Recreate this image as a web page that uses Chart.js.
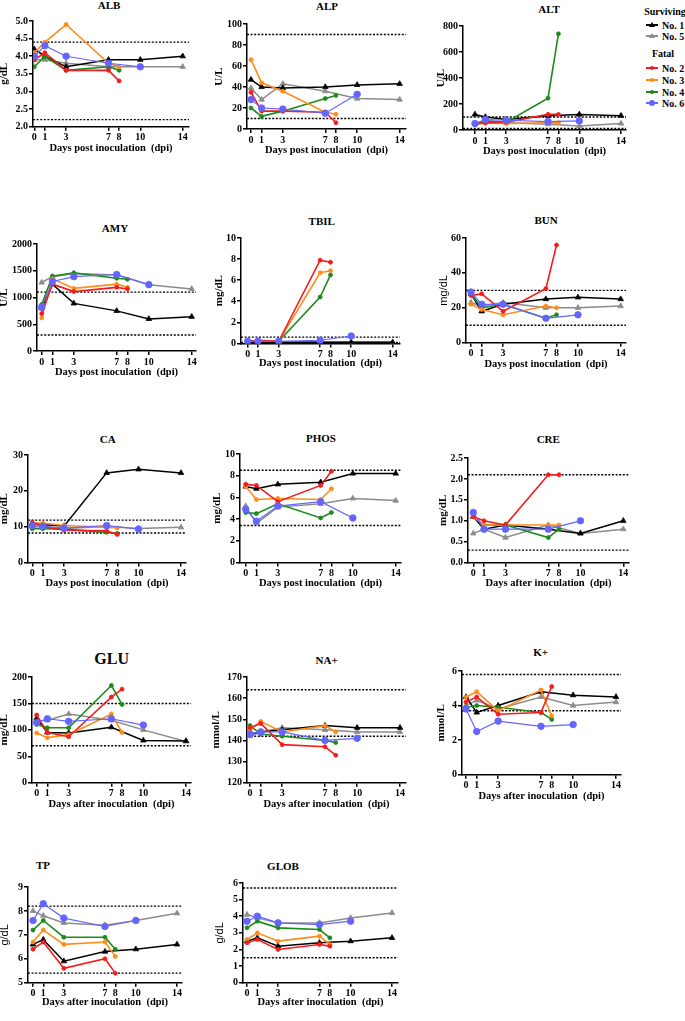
<!DOCTYPE html>
<html>
<head>
<meta charset="utf-8">
<script src="https://cdn.jsdelivr.net/npm/chart.js@4.4.0/dist/chart.umd.min.js"></script>
<style>
body { margin: 0; background: #fff; width: 685px; height: 1021px; position: relative; overflow: hidden; font-family: "Liberation Serif", serif; }
canvas { position: absolute; }
.ttl { position: absolute; font-weight: bold; font-size: 11px; transform: translate(-50%, -50%); white-space: nowrap; }
.lg { position: absolute; font-weight: bold; font-size: 10px; white-space: nowrap; }
.lgline { position: absolute; height: 1.5px; width: 12px; }
.tri { position: absolute; width: 0; height: 0; border-left: 3px solid transparent; border-right: 3px solid transparent; border-bottom: 5px solid; }
.dot { position: absolute; border-radius: 50%; }
</style>
</head>
<body>
<div id="root"></div>
<script>
// --- Data ---
const daysSurv = [0, 1, 3, 7, 10, 14];   // No. 1, No. 5
const daysFatal = [0, 1, 3, 7, 8];       // No. 2, No. 3, No. 4
const daysNo6 = [0, 1, 3, 7, 10];        // No. 6
const xTicks = [0, 1, 3, 7, 8, 10, 14];
const animals = ['No. 1', 'No. 5', 'No. 2', 'No. 3', 'No. 4', 'No. 6'];

// rows: No.1, No.5, No.2, No.3, No.4, No.6
const ALB = [[4.2, 4.0, 3.7, 3.9, 3.9, 4.0], [3.9, 3.9, 3.8, 3.7, 3.7, 3.7], [3.9, 4.1, 3.6, 3.6, 3.3], [4.1, 4.4, 4.9, 3.8, 3.7], [3.7, 4.0, 3.6, 3.7, 3.6], [4.0, 4.3, 4.0, 3.8, 3.7]];
const ALB_ref = [4.4, 2.2];
const ALP = [[47, 40, 39, 40, 42, 43], [39, 28, 43, 36, 29, 28], [35, 17, 17, 16, 6], [66, 44, 36, 16, 14], [20, 12, 17, 29, 32], [28, 20, 19, 15, 33]];
const ALP_ref = [90, 10];
const ALT = [[120, 100, 80, 110, 120, 110], [50, 60, 55, 45, 30, 50], [50, 55, 60, 120, 120], [40, 55, 50, 55, 55], [40, 70, 60, 245, 740], [50, 80, 75, 65, 70]];
const ALT_ref = [100, 12];
const AMY = [[800, 1250, 890, 750, 600, 640], [1280, 1390, 1450, 1420, 1240, 1160], [700, 1250, 1110, 1190, 1160], [620, 1350, 1170, 1250, 1190], [870, 1400, 1460, 1360, 1340], [820, 1300, 1390, 1430, 1240]];
const AMY_ref = [1100, 300];
const TBIL = [[0.1, 0.1, 0.1, 0.1, 0.1, 0.1], [0.1, 0.1, 0.1, 0.1, 0.1, 0.1], [0.2, 0.3, 0.2, 7.9, 7.7], [0.2, 0.2, 0.2, 6.7, 6.9], [0.2, 0.2, 0.2, 4.4, 6.5], [0.2, 0.2, 0.2, 0.3, 0.7]];
const TBIL_ref = [0.6, 0.1];
const BUN = [[28, 18, 22, 25, 26, 25], [23, 21, 23, 20, 20, 21], [27, 28, 18, 31, 56], [22, 19, 16, 21, 20], [28, 20, 22, 14, 16], [29, 22, 22, 14, 16]];
const BUN_ref = [30, 10];
const CA = [[11, 10.5, 10.2, 25, 26, 25], [10, 9.8, 9.5, 10, 9.5, 9.8], [11.2, 10, 9, 8.8, 7.8], [11, 11, 10.3, 9.8, 9.6], [9.4, 9.4, 9.3, 8.4, 8.1], [10.3, 10.1, 9.6, 10.3, 9.3]];
const CA_ref = [11.8, 8.2];
const PHOS = [[7.0, 6.8, 7.2, 7.4, 8.2, 8.2], [5.2, 3.6, 5.1, 5.4, 5.9, 5.7], [7.2, 7.1, 5.6, 7.1, 8.4], [7.0, 5.8, 5.9, 5.8, 6.8], [4.6, 4.5, 5.4, 4.1, 4.6], [4.9, 3.8, 5.2, 5.6, 4.1]];
const PHOS_ref = [8.5, 3.4];
const CRE = [[1.1, 0.8, 0.9, 0.8, 0.7, 1.0], [0.7, 0.8, 0.6, 0.9, 0.7, 0.8], [1.1, 1.0, 0.9, 2.1, 2.1], [1.1, 0.9, 0.9, 0.9, 0.9], [1.1, 0.9, 0.9, 0.6, 0.8], [1.2, 0.8, 0.8, 0.8, 1.0]];
const CRE_ref = [2.1, 0.3];
const GLU = [[122, 95, 94, 105, 80, 79], [117, 118, 130, 118, 100, 78], [128, 95, 87, 162, 177], [94, 85, 91, 130, 95], [110, 104, 104, 184, 148], [114, 121, 116, 121, 109]];
const GLU_ref = [150, 70];
const NA = [[143, 144, 145, 147, 146, 146], [142, 144, 146, 145, 144, 144], [146, 148, 138, 137, 133], [145, 149, 144, 147, 144], [147, 143, 142, 140, 139], [143, 144, 144, 140, 141]];
const NA_ref = [164, 142];
const K = [[4.5, 3.6, 4.0, 4.8, 4.6, 4.5], [4.0, 4.3, 3.8, 4.5, 4.0, 4.2], [4.2, 4.5, 3.5, 3.6, 5.1], [4.5, 4.8, 3.7, 4.9, 3.4], [3.9, 4.0, 3.9, 3.6, 3.2], [3.8, 2.5, 3.1, 2.8, 2.9]];
const K_ref = [5.8, 3.7];
const TP = [[6.6, 6.8, 5.9, 6.3, 6.4, 6.6], [8.0, 7.8, 7.5, 7.4, 7.6, 7.9], [6.4, 6.7, 5.6, 6.0, 5.4], [6.7, 7.2, 6.6, 6.7, 6.1], [7.2, 7.6, 6.9, 6.9, 6.4], [7.6, 8.3, 7.7, 7.35, 7.6]];
const TP_ref = [8.2, 5.4];
const GLOB = [[2.5, 2.7, 2.2, 2.4, 2.5, 2.7], [4.1, 3.9, 3.6, 3.6, 3.9, 4.2], [2.4, 2.6, 2.0, 2.3, 2.2], [2.6, 3.0, 2.5, 2.8, 2.3], [3.3, 3.7, 3.3, 3.2, 2.7], [3.7, 4.0, 3.6, 3.5, 3.7]];
const GLOB_ref = [5.7, 1.5];

// --- Styles ---
const seriesStyle = [
    { days: daysSurv, color: '#000000', point: 'triangle', r: 3.2, lw: 1.5 },
    { days: daysSurv, color: '#8c8c8c', point: 'triangle', r: 3.2, lw: 1.5 },
    { days: daysFatal, color: '#f41c1c', point: 'circle', r: 2, lw: 1.6 },
    { days: daysFatal, color: '#ff8c1a', point: 'circle', r: 2, lw: 1.6 },
    { days: daysFatal, color: '#1d8a1d', point: 'circle', r: 2, lw: 1.6 },
    { days: daysNo6, color: '#6464ff', point: 'circle', r: 3.3, lw: 1.2 }
];
const drawOrder = [5, 2, 3, 4, 0, 1]; // first = drawn on top

const POST = 'Days post inoculation  (dpi)';
const AFTER = 'Days after inoculation  (dpi)';

// box: y-axis x, plot top, plot bottom, x of day 0, x of day 14, axis end, y-title x, x-title y
const panels = [
    { title: 'ALB', unit: 'g/dL', data: ALB, ref: ALB_ref, y: [2, 5, 0.5, 1], box: [33, 21, 127, 34.3, 182.7, 189, 5, 149], t: [109, 5], xl: POST },
    { title: 'ALP', unit: 'U/L', data: ALP, ref: ALP_ref, y: [0, 100, 20, 0], box: [247, 24, 129, 251, 400.3, 406.7, 220, 150.7], t: [327, 6], xl: POST },
    { title: 'ALT', unit: 'U/L', data: ALT, ref: ALT_ref, y: [0, 800, 200, 0], box: [463, 26, 130, 475, 621.7, 626.7, 442, 151.7], t: [549, 9], xl: POST },
    { title: 'AMY', unit: 'U/L', data: AMY, ref: AMY_ref, y: [0, 2000, 500, 0], box: [37, 244, 351, 41.7, 191.7, 196, 5, 372.7], t: [115, 227.7], xl: POST },
    { title: 'TBIL', unit: 'mg/dL', data: TBIL, ref: TBIL_ref, y: [0, 10, 2, 0], box: [241, 238, 343, 247.7, 393.3, 400.7, 220, 363.3], t: [321.7, 221], xl: POST },
    { title: 'BUN', unit: 'mg/dL', sans: true, data: BUN, ref: BUN_ref, y: [0, 60, 20, 0], box: [466, 238, 343, 471, 620.7, 626, 444, 365], t: [546, 220], xl: POST },
    { title: 'CA', unit: 'mg/dL', data: CA, ref: CA_ref, y: [0, 30, 10, 0], box: [28, 455, 562, 32.3, 181.7, 186.7, 5, 583.3], t: [107.7, 439], xl: POST },
    { title: 'PHOS', unit: 'mg/dL', data: PHOS, ref: PHOS_ref, y: [0, 10, 2, 0], box: [240, 454, 562, 245.7, 395.7, 401, 218, 583.3], t: [321, 438.3], xl: POST },
    { title: 'CRE', unit: 'mg/dL', data: CRE, ref: CRE_ref, y: [0, 2.5, 0.5, 1], box: [468, 458, 563, 473.3, 623.3, 629, 444, 584], t: [548.3, 439], xl: AFTER },
    { title: 'GLU', big: true, unit: 'mg/dL', data: GLU, ref: GLU_ref, y: [0, 200, 50, 0], box: [32, 677, 783, 36.7, 186.7, 191.7, 5, 805], t: [111.7, 659.3], xl: AFTER },
    { title: 'NA+', unit: 'mmol/L', data: NA, ref: NA_ref, y: [120, 170, 10, 0], box: [247, 677, 783, 250, 400, 406, 217, 805], t: [326.7, 660], xl: AFTER },
    { title: 'K+', unit: 'mmol/L', data: K, ref: K_ref, y: [0, 6, 2, 0], box: [462, 671, 775, 466, 616.7, 621.7, 442, 797], t: [540.7, 652.3], xl: AFTER },
    { title: 'TP', unit: 'g/dL', sans: true, data: TP, ref: TP_ref, y: [5, 9, 1, 0], box: [28, 887, 983, 33, 177, 182, 5, 1003], t: [43, 865], xl: AFTER },
    { title: 'GLOB', unit: 'g/dL', sans: true, data: GLOB, ref: GLOB_ref, y: [0, 6, 1, 0], box: [243, 883, 983, 247, 392, 398, 220, 1003], t: [283, 866], xl: AFTER }
];

const root = document.getElementById('root');
const SERIF = '"Liberation Serif", serif';

function addDiv(cls, text, x, y, extra) {
    const d = document.createElement('div');
    d.className = cls;
    d.textContent = text;
    d.style.left = x + 'px';
    d.style.top = y + 'px';
    if (extra) Object.assign(d.style, extra);
    root.appendChild(d);
    return d;
}

function makePanel(p) {
    const [axisX, top, bottom, x0, x14, end, ylabX, xlabY] = p.box;
    const unitPx = (x14 - x0) / 14;
    const xmin = (axisX - x0) / unitPx;
    const xmax = 14 + (end - x14) / unitPx;
    const padT = 8, padR = 10;
    const left = Math.round(ylabX - 6.6);
    const YW = axisX - left;
    const XH = xlabY - bottom + 6.3;
    const w = YW + (end - axisX) + padR;
    const h = Math.round(padT + (bottom - top) + XH);

    const cv = document.createElement('canvas');
    cv.width = w; cv.height = h;
    cv.style.left = left + 'px';
    cv.style.top = (top - padT) + 'px';
    root.appendChild(cv);

    addDiv('ttl', p.title, p.t[0], p.t[1], p.big ? { fontSize: '16px' } : null);

    const datasets = [];
    drawOrder.forEach(i => {
        const s = seriesStyle[i];
        datasets.push({
            label: animals[i],
            data: p.data[i].map((v, k) => ({ x: s.days[k], y: v })),
            borderColor: s.color,
            backgroundColor: s.color,
            borderWidth: s.lw,
            pointStyle: s.point,
            pointRadius: s.r,
            pointBorderWidth: 0.8,
            tension: 0
        });
    });
    p.ref.forEach(v => {
        datasets.push({
            data: [{ x: xmin, y: v }, { x: xmax, y: v }],
            borderColor: '#000',
            borderWidth: 1.4,
            borderDash: [2, 1.6],
            pointRadius: 0,
            tension: 0
        });
    });

    const tickFont = { family: SERIF, size: 10, weight: 'bold' };
    new Chart(cv, {
        type: 'line',
        data: { datasets },
        options: {
            responsive: false,
            animation: false,
            devicePixelRatio: 1,
            layout: { padding: { top: padT, right: padR, left: 0, bottom: 0 } },
            plugins: { legend: { display: false }, tooltip: { enabled: false } },
            scales: {
                x: {
                    type: 'linear', min: xmin, max: xmax,
                    afterBuildTicks: s => { s.ticks = xTicks.map(v => ({ value: v })); },
                    afterFit: s => { s.height = XH; },
                    border: { display: true, color: '#000', width: 1.5 },
                    grid: { drawOnChartArea: false, drawTicks: true, tickLength: 4, color: '#000', lineWidth: 1.5 },
                    ticks: { color: '#000', font: tickFont, padding: 1, maxRotation: 0, autoSkip: false },
                    title: { display: true, text: p.xl, color: '#000', padding: 0, font: { family: SERIF, size: 10.5, weight: 'bold' } }
                },
                y: {
                    min: p.y[0], max: p.y[1],
                    afterFit: s => { s.width = YW; },
                    border: { display: true, color: '#000', width: 1.5 },
                    grid: { drawOnChartArea: false, drawTicks: true, tickLength: 4, color: '#000', lineWidth: 1.5 },
                    ticks: { stepSize: p.y[2], color: '#000', font: tickFont, padding: 1, callback: v => v.toFixed(p.y[3]) },
                    title: {
                        display: true, text: p.unit, color: '#000', padding: 0,
                        font: p.sans ? { family: 'Arial, "Liberation Sans", sans-serif', size: 11 } : { family: SERIF, size: 11, weight: 'bold' }
                    }
                }
            }
        }
    });
}

panels.forEach(makePanel);

// --- Legend ---
addDiv('lg', 'Surviving', 665, 11, { transform: 'translate(-50%,-50%)' });
addDiv('lg', 'Fatal', 663, 53, { transform: 'translate(-50%,-50%)' });
const legendRows = [[0, 25], [1, 36], [2, 68], [3, 80], [4, 92], [5, 103]];
legendRows.forEach(([i, y]) => {
    const s = seriesStyle[i];
    const ln = document.createElement('div');
    ln.className = 'lgline';
    ln.style.left = '646px'; ln.style.top = (y - 0.75) + 'px'; ln.style.background = s.color;
    root.appendChild(ln);
    const m = document.createElement('div');
    if (s.point === 'triangle') {
        m.className = 'tri';
        m.style.left = '649px'; m.style.top = (y - 3) + 'px'; m.style.borderBottomColor = s.color;
    } else {
        const d = s.r * 2;
        m.className = 'dot';
        m.style.width = d + 'px'; m.style.height = d + 'px';
        m.style.left = (652 - s.r) + 'px'; m.style.top = (y - s.r) + 'px'; m.style.background = s.color;
    }
    root.appendChild(m);
    addDiv('lg', animals[i], 662, y, { transform: 'translateY(-50%)' });
});
</script>
</body>
</html>
